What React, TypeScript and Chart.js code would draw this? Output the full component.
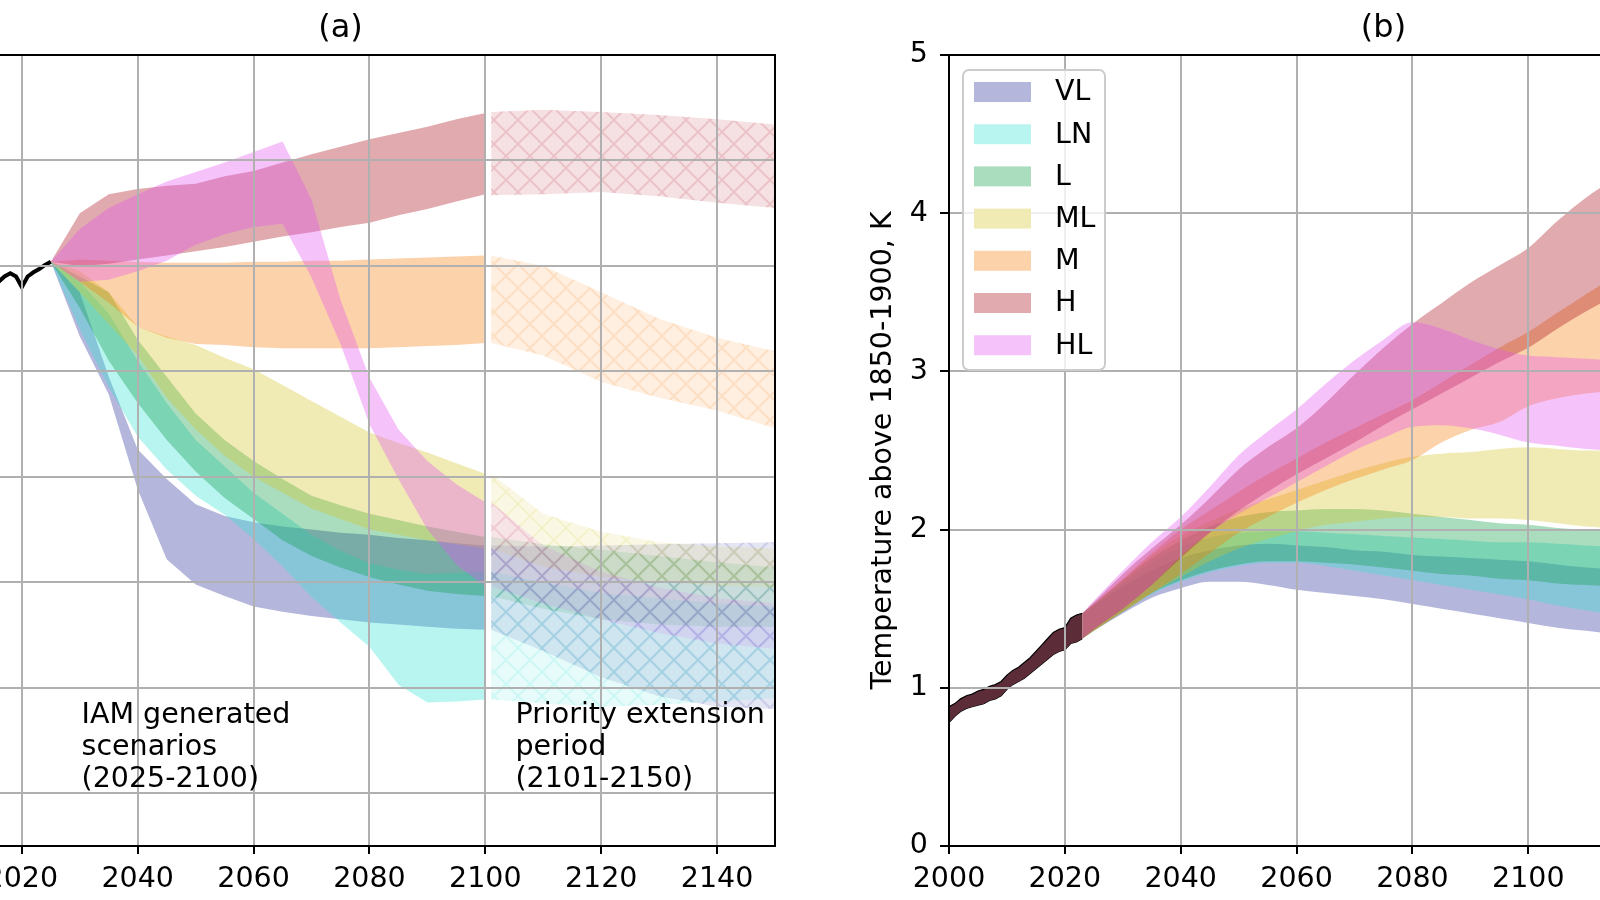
import React, { useEffect, useRef } from "react";
import { Chart, registerables } from "chart.js";
Chart.register(...registerables);

const FONT_FAMILY = '"DejaVu Sans", "Liberation Sans", Arial, sans-serif';
const FS = 28.5;
const TITLE_FS = 32;
const GRID = "#b0b0b0";

// ---------------- scenario meta ----------------
const scenarioNames = ["VL", "LN", "L", "ML", "M", "H", "HL"];
type RGB = [number, number, number];
const scenarioRGB: RGB[] = [
  [41, 46, 155],
  [52, 226, 212],
  [12, 155, 69],
  [212, 198, 41],
  [246, 126, 12],
  [169, 12, 26],
  [226, 84, 241],
];
const BAND_ALPHA = 0.35;

// ---------------- panel (a): CO2 emissions ----------------
const histYearsA = [2000, 2001, 2002, 2003, 2004, 2005, 2006, 2007, 2008, 2009, 2010, 2011, 2012, 2013, 2014, 2015, 2016, 2017, 2018, 2019, 2020, 2021, 2022, 2023, 2024, 2025];
const histEmis = [21.0, 21.4, 21.9, 22.7, 23.4, 24.0, 24.6, 25.2, 25.6, 25.2, 26.5, 27.2, 27.5, 27.8, 28.0, 28.3, 28.5, 29.0, 29.3, 29.0, 28.0, 29.0, 29.4, 29.7, 30.1, 30.4];

const iamYears = [2025, 2030, 2035, 2040, 2045, 2050, 2055, 2060, 2065, 2070, 2075, 2080, 2085, 2090, 2095, 2100];
const vlLoA = [30.4, 23.3, 17.8, 8.8, 2.2, -0.2, -1.3, -2.3, -2.8, -3.2, -3.5, -3.8, -4.0, -4.2, -4.4, -4.5];
const vlHiA = [30.4, 27.5, 19.5, 12.6, 9.8, 7.4, 6.3, 5.7, 5.3, 5.0, 4.7, 4.5, 4.2, 4.0, 3.7, 3.5];
const lnLoA = [30.4, 24.0, 18.5, 13.8, 10.7, 8.2, 6.4, 4.1, 1.5, -1.4, -3.8, -6.1, -9.7, -11.4, -11.3, -11.1];
const lnHiA = [30.4, 28.5, 25.5, 21.0, 17.0, 13.5, 11.0, 8.5, 6.5, 4.5, 3.0, 1.8, 1.2, 0.8, 0.9, 1.0];
const lLoA = [30.4, 26.0, 21.0, 17.0, 13.5, 10.5, 8.0, 6.0, 4.0, 2.5, 1.4, 0.5, -0.2, -0.8, -1.1, -1.3];
const lHiA = [30.4, 29.0, 27.5, 23.0, 19.5, 16.0, 13.5, 11.5, 9.8, 8.2, 7.3, 6.5, 5.9, 5.3, 4.8, 4.3];
const mlLoA = [30.4, 27.5, 24.5, 21.5, 17.5, 14.5, 12.0, 10.0, 8.5, 7.0, 6.0, 5.0, 4.5, 4.0, 3.6, 3.2];
const mlHiA = [30.4, 29.5, 27.5, 24.2, 23.3, 22.5, 21.3, 20.2, 18.7, 17.2, 15.7, 14.2, 13.2, 12.3, 11.3, 10.3];
const mLoA = [30.4, 28.5, 26.5, 24.2, 23.2, 22.6, 22.5, 22.3, 22.2, 22.2, 22.2, 22.2, 22.3, 22.4, 22.5, 22.7];
const mHiA = [30.4, 30.6, 30.5, 30.4, 30.3, 30.3, 30.3, 30.4, 30.4, 30.5, 30.5, 30.6, 30.7, 30.8, 30.9, 31.0];
const hLoA = [30.4, 30.0, 30.2, 30.6, 31.0, 31.4, 31.8, 32.3, 32.8, 33.2, 33.7, 34.1, 34.8, 35.4, 36.1, 36.8];
const hHiA = [30.4, 35.0, 36.8, 37.3, 37.6, 37.8, 38.5, 39.0, 39.8, 40.6, 41.3, 42.0, 42.6, 43.2, 43.9, 44.5];
const hlLoA = [30.4, 28.5, 28.7, 29.5, 30.5, 32.0, 33.0, 33.7, 34.0, 28.9, 22.6, 15.0, 9.8, 5.0, 1.7, -0.4];
const hlHiA = [30.4, 33.5, 35.5, 36.8, 38.0, 38.9, 39.8, 40.8, 41.8, 36.3, 26.8, 19.4, 14.5, 11.5, 9.3, 7.6];

const extYears = [2101, 2110, 2120, 2130, 2140, 2150];
const vlLoExt = [-4.5, -6.5, -9.0, -10.8, -11.8, -12.0];
const vlHiExt = [3.5, 3.4, 3.5, 3.6, 3.7, 3.8];
const lnLoExt = [-11.1, -11.5, -11.8, -11.6, -11.3, -11.0];
const lnHiExt = [1.0, 0.0, -1.0, -1.5, -2.0, -2.3];
const lLoExt = [-1.3, -2.5, -3.5, -4.0, -4.2, -4.2];
const lHiExt = [4.3, 3.6, 3.1, 2.5, 1.9, 1.4];
const mlLoExt = [3.2, 1.5, 0.5, 0.0, -0.3, -0.5];
const mlHiExt = [10.3, 6.5, 4.8, 3.8, 3.4, 3.2];
const mLoExt = [22.7, 21.5, 19.0, 17.5, 16.3, 14.6];
const mHiExt = [31.0, 30.0, 27.5, 25.0, 23.2, 21.9];
const hLoExt = [36.7, 36.8, 37.0, 36.6, 36.0, 35.5];
const hHiExt = [44.6, 44.8, 44.6, 44.3, 43.9, 43.4];
const hlLoExt = [-0.4, -2.0, -3.5, -4.8, -5.8, -6.3];
const hlHiExt = [7.6, 3.5, 1.0, -0.5, -1.5, -2.0];

const zeroLineYears = [2000, 2150];
const zeroLineValues = [0, 0];

const xTickValues = [2000, 2020, 2040, 2060, 2080, 2100, 2120, 2140];
const yTickValuesA = [-20, -10, 0, 10, 20, 30, 40, 50];

const noteIAM = ["IAM generated", "scenarios", "(2025-2100)"];
const notePriority = ["Priority extension", "period", "(2101-2150)"];
const noteIAMAt = { x: 2030.3, y: -13.3 };
const notePriorityAt = { x: 2105.2, y: -13.3 };

// ---------------- panel (b): temperature ----------------
const histYearsB = [2000, 2001, 2002, 2003, 2004, 2005, 2006, 2007, 2008, 2009, 2010, 2011, 2012, 2013, 2014, 2015, 2016, 2017, 2018, 2019, 2020, 2021, 2022, 2023];
const histTempHi = [0.88, 0.9, 0.93, 0.95, 0.96, 0.98, 0.99, 1.01, 1.02, 1.04, 1.08, 1.11, 1.13, 1.16, 1.19, 1.23, 1.27, 1.31, 1.35, 1.37, 1.38, 1.44, 1.46, 1.47];
const histTempLo = [0.78, 0.82, 0.85, 0.87, 0.88, 0.89, 0.9, 0.92, 0.93, 0.95, 0.99, 1.02, 1.04, 1.06, 1.09, 1.12, 1.15, 1.18, 1.21, 1.23, 1.24, 1.28, 1.29, 1.31];

const tempYears = [2023, 2025, 2030, 2035, 2040, 2045, 2050, 2055, 2060, 2065, 2070, 2075, 2080, 2085, 2090, 2095, 2100, 2105, 2110, 2115, 2120];
const vlLoB = [1.31, 1.36, 1.47, 1.57, 1.63, 1.67, 1.67, 1.65, 1.62, 1.6, 1.58, 1.56, 1.53, 1.5, 1.47, 1.44, 1.41, 1.38, 1.36, 1.34, 1.33];
const vlHiB = [1.47, 1.52, 1.64, 1.74, 1.82, 1.87, 1.9, 1.91, 1.9, 1.89, 1.87, 1.86, 1.84, 1.83, 1.82, 1.81, 1.8, 1.78, 1.76, 1.75, 1.74];
const lnLoB = [1.31, 1.36, 1.48, 1.59, 1.67, 1.73, 1.77, 1.79, 1.79, 1.77, 1.74, 1.71, 1.68, 1.65, 1.62, 1.59, 1.56, 1.52, 1.49, 1.46, 1.44];
const lnHiB = [1.47, 1.52, 1.66, 1.79, 1.89, 1.95, 1.98, 1.99, 1.99, 1.98, 1.97, 1.96, 1.95, 1.94, 1.93, 1.92, 1.92, 1.91, 1.9, 1.89, 1.88];
const lLoB = [1.31, 1.36, 1.48, 1.6, 1.68, 1.74, 1.78, 1.8, 1.8, 1.79, 1.78, 1.76, 1.74, 1.72, 1.71, 1.69, 1.68, 1.66, 1.65, 1.64, 1.63];
const lHiB = [1.47, 1.53, 1.68, 1.82, 1.93, 2.02, 2.08, 2.11, 2.12, 2.13, 2.13, 2.12, 2.1, 2.08, 2.06, 2.04, 2.03, 2.01, 2.0, 1.99, 1.98];
const mlLoB = [1.31, 1.36, 1.48, 1.6, 1.7, 1.8, 1.88, 1.94, 1.99, 2.03, 2.05, 2.07, 2.08, 2.08, 2.07, 2.07, 2.06, 2.04, 2.02, 2.01, 2.0];
const mlHiB = [1.47, 1.53, 1.68, 1.84, 1.96, 2.05, 2.13, 2.19, 2.25, 2.31, 2.37, 2.42, 2.46, 2.48, 2.49, 2.51, 2.52, 2.51, 2.5, 2.5, 2.5];
const mLoB = [1.31, 1.36, 1.48, 1.6, 1.72, 1.85, 1.98, 2.08, 2.17, 2.25, 2.32, 2.38, 2.44, 2.55, 2.63, 2.68, 2.78, 2.83, 2.86, 2.88, 2.9];
const mHiB = [1.47, 1.53, 1.69, 1.85, 2.0, 2.12, 2.24, 2.35, 2.45, 2.55, 2.64, 2.73, 2.82, 2.93, 3.04, 3.15, 3.25, 3.37, 3.49, 3.6, 3.7];
const hLoB = [1.31, 1.37, 1.5, 1.65, 1.82, 1.98, 2.12, 2.24, 2.35, 2.45, 2.55, 2.66, 2.76, 2.86, 2.96, 3.06, 3.15, 3.27, 3.38, 3.48, 3.57];
const hHiB = [1.47, 1.54, 1.72, 1.88, 2.03, 2.2, 2.38, 2.52, 2.64, 2.8, 2.98, 3.15, 3.3, 3.43, 3.56, 3.67, 3.78, 3.95, 4.1, 4.22, 4.33];
const hlLoB = [1.31, 1.37, 1.5, 1.65, 1.83, 1.98, 2.1, 2.2, 2.3, 2.4, 2.5, 2.58, 2.65, 2.66, 2.64, 2.6, 2.55, 2.53, 2.51, 2.5, 2.49];
const hlHiB = [1.47, 1.55, 1.74, 1.92, 2.08, 2.27, 2.47, 2.62, 2.76, 2.92, 3.07, 3.2, 3.31, 3.27, 3.2, 3.14, 3.1, 3.09, 3.08, 3.07, 3.06];

const yTickValuesB = [0, 1, 2, 3, 4, 5];
const yTitleB = "Temperature above 1850-1900, K";

// ---------------- helpers ----------------
const rgba = (c: RGB, a: number) => `rgba(${c[0]},${c[1]},${c[2]},${a})`;
const pts = (xs: number[], ys: number[]) => xs.map((x, i) => ({ x, y: ys[i] }));

function makeHatch(c: RGB): CanvasPattern | string {
  const s = 24;
  const cv = document.createElement("canvas");
  cv.width = s;
  cv.height = s;
  const g = cv.getContext("2d");
  if (!g) return rgba(c, 0.15);
  g.fillStyle = rgba(c, 0.12);
  g.fillRect(0, 0, s, s);
  g.strokeStyle = rgba(c, 0.14);
  g.lineWidth = 2;
  g.beginPath();
  g.moveTo(-2, -2);
  g.lineTo(s + 2, s + 2);
  g.moveTo(-2, s + 2);
  g.lineTo(s + 2, -2);
  g.stroke();
  return g.createPattern(cv, "repeat") || rgba(c, 0.15);
}

function band(xs: number[], lo: number[], hi: number[], fillStyle: any, extra: any = {}) {
  return [
    { data: pts(xs, lo), borderWidth: 0, pointRadius: 0, fill: false, backgroundColor: "rgba(0,0,0,0)", ...extra },
    { data: pts(xs, hi), borderWidth: 0, pointRadius: 0, fill: "-1", backgroundColor: fillStyle, ...extra },
  ];
}

function withOrder(ds: any[]) {
  const n = ds.length;
  return ds.map((d, i) => ({ ...d, order: n - i }));
}

const frameAndTitle = (title: string) => ({
  id: "frame_" + title,
  afterDraw(chart: any) {
    const { ctx, chartArea } = chart;
    ctx.save();
    ctx.strokeStyle = "#000";
    ctx.lineWidth = 2;
    ctx.strokeRect(chartArea.left, chartArea.top, chartArea.right - chartArea.left, chartArea.bottom - chartArea.top);
    ctx.fillStyle = "#000";
    ctx.font = `${TITLE_FS}px ${FONT_FAMILY}`;
    ctx.textAlign = "center";
    ctx.textBaseline = "alphabetic";
    ctx.fillText(title, (chartArea.left + chartArea.right) / 2, 37);
    ctx.restore();
  },
});

function commonX() {
  return {
    type: "linear",
    min: 2000,
    max: 2150,
    afterBuildTicks: (s: any) => {
      s.ticks = xTickValues.map((v) => ({ value: v }));
    },
    afterFit: (s: any) => {
      s.height = 54;
    },
    grid: { color: GRID, lineWidth: 2, z: 1, tickColor: "#000", tickLength: 8, tickWidth: 2 },
    border: { display: false },
    ticks: {
      color: "#000",
      font: { family: FONT_FAMILY, size: FS },
      padding: 8,
      maxRotation: 0,
      autoSkip: false,
      callback: (v: any) => String(v),
    },
  };
}

export default function App() {
  const refA = useRef<HTMLCanvasElement>(null);
  const refB = useRef<HTMLCanvasElement>(null);

  useEffect(() => {
    Chart.defaults.font.family = FONT_FAMILY;

    const loA = [vlLoA, lnLoA, lLoA, mlLoA, mLoA, hLoA, hlLoA];
    const hiA = [vlHiA, lnHiA, lHiA, mlHiA, mHiA, hHiA, hlHiA];
    const loE = [vlLoExt, lnLoExt, lLoExt, mlLoExt, mLoExt, hLoExt, hlLoExt];
    const hiE = [vlHiExt, lnHiExt, lHiExt, mlHiExt, mHiExt, hHiExt, hlHiExt];

    let dsA: any[] = [];
    scenarioNames.forEach((_, k) => {
      dsA.push(...band(iamYears, loA[k], hiA[k], rgba(scenarioRGB[k], BAND_ALPHA)));
    });
    scenarioNames.forEach((_, k) => {
      dsA.push(...band(extYears, loE[k], hiE[k], makeHatch(scenarioRGB[k])));
    });
    dsA.push({
      data: pts(zeroLineYears, zeroLineValues),
      borderColor: "#000",
      borderWidth: 1.5,
      borderDash: [2, 2],
      pointRadius: 0,
      fill: false,
    });
    dsA.push({
      data: pts(histYearsA, histEmis),
      borderColor: "#000",
      borderWidth: 4,
      pointRadius: 0,
      fill: false,
    });
    dsA = withOrder(dsA);

    const annA = {
      id: "annA",
      afterDraw(chart: any) {
        const { ctx, scales } = chart;
        ctx.save();
        ctx.fillStyle = "#000";
        ctx.font = `${FS}px ${FONT_FAMILY}`;
        ctx.textAlign = "left";
        ctx.textBaseline = "alphabetic";
        const put = (lines: string[], at: { x: number; y: number }) => {
          const x = scales.x.getPixelForValue(at.x);
          const y = scales.y.getPixelForValue(at.y);
          lines.forEach((t, i) => ctx.fillText(t, x, y + i * 32));
        };
        put(noteIAM, noteIAMAt);
        put(notePriority, notePriorityAt);
        ctx.restore();
      },
    };

    const chartA = new Chart(refA.current as HTMLCanvasElement, {
      type: "line",
      data: { datasets: dsA },
      options: {
        animation: false,
        responsive: false,
        devicePixelRatio: 1,
        events: [],
        layout: { padding: { left: 60, right: 40, top: 55, bottom: 0 } },
        plugins: { legend: { display: false }, tooltip: { enabled: false }, title: { display: false } },
        scales: {
          x: commonX() as any,
          y: {
            type: "linear",
            min: -25,
            max: 50,
            afterBuildTicks: (s: any) => {
              s.ticks = yTickValuesA.map((v) => ({ value: v }));
            },
            afterFit: (s: any) => {
              s.width = 0;
            },
            grid: { color: GRID, lineWidth: 2, z: 1, drawTicks: false },
            border: { display: false },
            ticks: { display: false },
          },
        },
      } as any,
      plugins: [frameAndTitle("(a)"), annA],
    });

    // ---- panel b ----
    const loB = [vlLoB, lnLoB, lLoB, mlLoB, mLoB, hLoB, hlLoB];
    const hiB = [vlHiB, lnHiB, lHiB, mlHiB, mHiB, hHiB, hlHiB];
    let dsB: any[] = [];
    scenarioNames.forEach((_, k) => {
      dsB.push(...band(tempYears, loB[k], hiB[k], rgba(scenarioRGB[k], BAND_ALPHA), { cubicInterpolationMode: "monotone" }));
    });
    dsB.push(
      { data: pts(histYearsB, histTempLo), borderColor: "#000", borderWidth: 1.2, pointRadius: 0, fill: false, backgroundColor: "rgba(0,0,0,0)" },
      { data: pts(histYearsB, histTempHi), borderColor: "#000", borderWidth: 1.2, pointRadius: 0, fill: "-1", backgroundColor: "rgb(92,45,56)" }
    );
    dsB = withOrder(dsB);

    const legendB = {
      id: "legendB",
      afterDraw(chart: any) {
        const { ctx, chartArea } = chart;
        const bx = chartArea.left + 14;
        const by = chartArea.top + 15;
        const bw = 142;
        const bh = 300;
        ctx.save();
        ctx.beginPath();
        const r = 6;
        ctx.moveTo(bx + r, by);
        ctx.arcTo(bx + bw, by, bx + bw, by + bh, r);
        ctx.arcTo(bx + bw, by + bh, bx, by + bh, r);
        ctx.arcTo(bx, by + bh, bx, by, r);
        ctx.arcTo(bx, by, bx + bw, by, r);
        ctx.closePath();
        ctx.fillStyle = "rgba(255,255,255,0.8)";
        ctx.fill();
        ctx.strokeStyle = "#cccccc";
        ctx.lineWidth = 2;
        ctx.stroke();
        ctx.font = `${FS}px ${FONT_FAMILY}`;
        ctx.textAlign = "left";
        ctx.textBaseline = "middle";
        scenarioNames.forEach((name, i) => {
          const cy = by + 22 + i * 42.2;
          ctx.fillStyle = "#ffffff";
          ctx.fillRect(bx + 11, cy - 10, 57, 20);
          ctx.fillStyle = rgba(scenarioRGB[i], BAND_ALPHA);
          ctx.fillRect(bx + 11, cy - 10, 57, 20);
          ctx.fillStyle = "#000";
          ctx.fillText(name, bx + 92, cy + 1);
        });
        ctx.restore();
      },
    };

    const chartB = new Chart(refB.current as HTMLCanvasElement, {
      type: "line",
      data: { datasets: dsB },
      options: {
        animation: false,
        responsive: false,
        devicePixelRatio: 1,
        events: [],
        layout: { padding: { left: 0, right: 40, top: 55, bottom: 0 } },
        plugins: { legend: { display: false }, tooltip: { enabled: false }, title: { display: false } },
        scales: {
          x: commonX() as any,
          y: {
            type: "linear",
            min: 0,
            max: 5,
            afterBuildTicks: (s: any) => {
              s.ticks = yTickValuesB.map((v) => ({ value: v }));
            },
            afterFit: (s: any) => {
              s.width = 87;
            },
            grid: { color: GRID, lineWidth: 2, z: 1, tickColor: "#000", tickLength: 9, tickWidth: 2 },
            border: { display: false },
            ticks: {
              color: "#000",
              font: { family: FONT_FAMILY, size: FS },
              padding: 12,
              callback: (v: any) => String(v),
            },
            title: {
              display: true,
              text: yTitleB,
              color: "#000",
              font: { family: FONT_FAMILY, size: FS },
              padding: { top: 4, bottom: 4 },
            },
          },
        },
      } as any,
      plugins: [frameAndTitle("(b)"), legendB],
    });

    return () => {
      chartA.destroy();
      chartB.destroy();
    };
  }, []);

  return (
    <div style={{ position: "fixed", left: 0, top: 0, width: 1600, height: 900, overflow: "hidden", background: "#fff" }}>
      <canvas
        ref={refA}
        width={969}
        height={900}
        style={{ position: "absolute", left: -154, top: 0, width: 969, height: 900 }}
      />
      <canvas
        ref={refB}
        width={996}
        height={900}
        style={{ position: "absolute", left: 862, top: 0, width: 996, height: 900 }}
      />
    </div>
  );
}
